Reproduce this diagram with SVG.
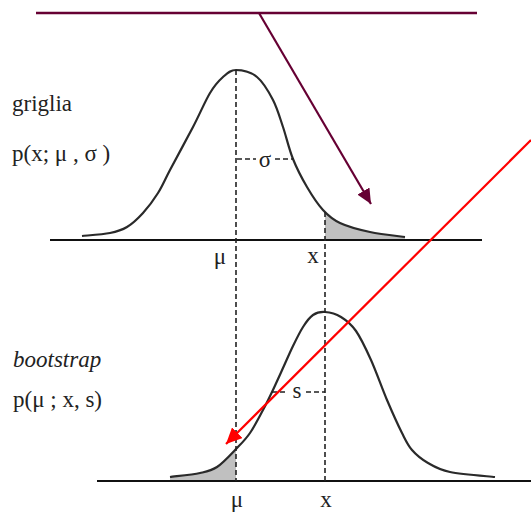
<svg xmlns="http://www.w3.org/2000/svg" width="531" height="514" viewBox="0 0 531 514">
<style>
.t{font-family:"Liberation Serif","Times New Roman",serif;font-size:23px;fill:#222}
.c{fill:none;stroke:#2a2a2a;stroke-width:2.2}
.ax{stroke:#111;stroke-width:2}
.d{stroke:#222;stroke-width:1.6;stroke-dasharray:5,3;fill:none}
.sh{fill:#c0c0c0;stroke:none}
</style>
<defs>
<marker id="ap" markerUnits="userSpaceOnUse" markerWidth="16" markerHeight="14" refX="15" refY="7" orient="auto"><path d="M0,0 L15,7 L0,14 z" fill="#660033"/></marker>
<marker id="ar" markerUnits="userSpaceOnUse" markerWidth="17" markerHeight="15" refX="16" refY="7.5" orient="auto"><path d="M0,0 L16,7.5 L0,15 z" fill="#ff0000"/></marker>
<clipPath id="cr"><rect x="325" y="0" width="100" height="241"/></clipPath>
<clipPath id="cl"><rect x="150" y="300" width="86" height="182"/></clipPath>
<path id="top" d="M82,236 C86.7,235.5 102.5,234.5 110,233 C117.5,231.5 121.5,230.3 127,227 C132.5,223.7 137.8,218.7 143,213 C148.2,207.3 153.5,200.2 158,193 C162.5,185.8 164.2,181 170,170 C175.8,159 186.3,139.8 193,127 C199.7,114.2 205,101.3 210,93 C215,84.7 218.7,80.8 223,77 C227.3,73.2 230.3,70 236,70 C241.7,70 250.8,72 257,77 C263.2,82 268.7,91.7 273,100 C277.3,108.3 279.7,117.2 283,127 C286.3,136.8 289,149 293,159 C297,169 302,178.5 307,187 C312,195.5 317.5,204 323,210 C328.5,216 332.2,219.3 340,223 C347.8,226.7 359.2,229.7 370,232 C380.8,234.3 399.2,236.2 405,237"/>
<path id="bot" d="M170,477 C175,476.3 192.2,474.7 200,473 C207.8,471.3 210.8,471 217,467 C223.2,463 231.5,453.7 237,448 C242.5,442.3 245.7,439.3 250,433 C254.3,426.7 259.3,416.8 263,410 C266.7,403.2 268.7,399 272,392 C275.3,385 279.5,375.7 283,368 C286.5,360.3 289.7,352.8 293,346 C296.3,339.2 299.7,332.2 303,327 C306.3,321.8 309.3,317.5 313,315 C316.7,312.5 320.3,311.7 325,312 C329.7,312.3 335.8,313.8 341,317 C346.2,320.2 351,323.8 356,331 C361,338.2 365.8,348.5 371,360 C376.2,371.5 381.8,387.8 387,400 C392.2,412.2 397.8,424.7 402,433 C406.2,441.3 407.7,445 412,450 C416.3,455 421.7,459.3 428,463 C434.3,466.7 438.8,469.7 450,472 C461.2,474.3 487.5,476.2 495,477"/>
</defs>
<g id="shading">
<path class="sh" clip-path="url(#cr)" d="M323,210 C328.5,216 332.2,219.3 340,223 C347.8,226.7 359.2,229.7 370,232 C380.8,234.3 399.2,236.2 405,237 L405,240 L300,240 L300,190 z"/>
<path class="sh" clip-path="url(#cl)" d="M170,477 C175,476.3 192.2,474.7 200,473 C207.8,471.3 210.8,471 217,467 C223.2,463 231.5,453.7 237,448 C242.5,442.3 245.7,439.3 250,433 L250,481 L170,481 z"/>
</g>
<g id="griglia">
<use href="#top" class="c"/>
<line class="ax" x1="50" y1="240" x2="482" y2="240"/>
<text class="t" x="12" y="111">griglia</text>
<text class="t" x="12" y="161">p(x; μ , σ )</text>
<line class="d" x1="237" y1="159" x2="256" y2="159"/>
<line class="d" x1="275" y1="159" x2="293" y2="159"/>
<text class="t" x="265" y="167" text-anchor="middle">σ</text>
<text class="t" x="220" y="264" text-anchor="middle">μ</text>
<text class="t" x="313" y="263" text-anchor="middle">x</text>
</g>
<g id="bootstrap">
<use href="#bot" class="c"/>
<line class="ax" x1="97" y1="481" x2="531" y2="481"/>
<text class="t" x="13" y="367" font-style="italic">bootstrap</text>
<text class="t" x="13" y="407">p(μ ; x, s)</text>
<line class="d" x1="272" y1="392" x2="287" y2="392"/>
<line class="d" x1="306" y1="392" x2="325" y2="392"/>
<text class="t" x="297" y="398" text-anchor="middle">s</text>
<text class="t" x="237" y="507" text-anchor="middle">μ</text>
<text class="t" x="326" y="507" text-anchor="middle">x</text>
</g>
<g id="guides">
<line class="d" x1="236" y1="70" x2="236" y2="481"/>
<line class="d" x1="325" y1="212" x2="325" y2="481"/>
</g>
<g id="connectors">
<line x1="36" y1="13" x2="477" y2="13" stroke="#660033" stroke-width="2.5"/>
<line x1="259" y1="13" x2="371" y2="204" stroke="#660033" stroke-width="2.2" marker-end="url(#ap)"/>
<line x1="531" y1="140" x2="226" y2="444" stroke="#ff0000" stroke-width="2.2" marker-end="url(#ar)"/>
</g>
</svg>
